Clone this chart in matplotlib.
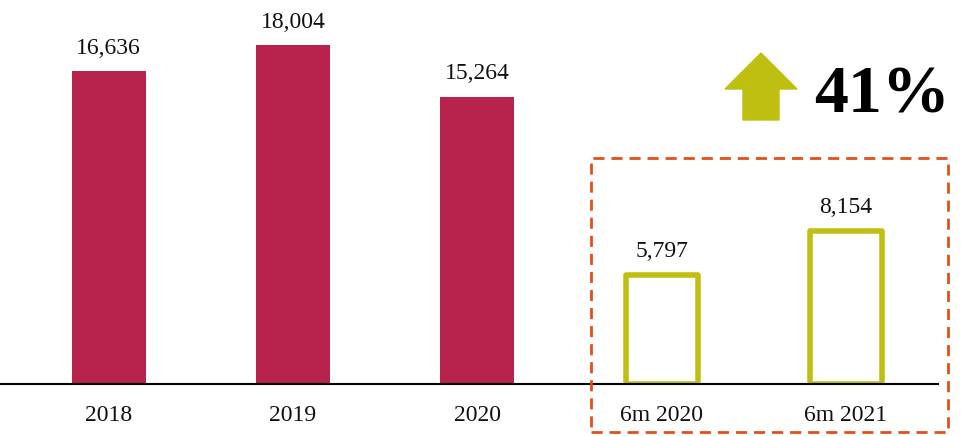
import matplotlib.pyplot as plt
from matplotlib.patches import Rectangle, Polygon

# dados
categorias = ['2018', '2019', '2020', '6m 2020', '6m 2021']
valores = [16636, 18004, 15264, 5797, 8154]
rotulos = ['16,636', '18,004', '15,264', '5,797', '8,154']
variacao = '41%'

cor_ano = '#B8234E'
cor_sem = '#BFBF12'
cor_caixa = '#E0501A'

plt.rcParams['font.family'] = ['Liberation Serif', 'DejaVu Serif']

W, H = 961, 436
fig = plt.figure(figsize=(W / 100, H / 100), dpi=100)
ax = fig.add_axes([0, (H - 384) / H, 938 / W, 384 / H])

x = list(range(len(categorias)))
ax.bar(x[:3], valores[:3], width=0.4, color=cor_ano)
ax.bar(x[3:], valores[3:], width=0.39, facecolor='white', edgecolor=cor_sem,
       linewidth=4, joinstyle='round', zorder=2)

for xi, v, r in zip(x, valores, rotulos):
    ax.annotate(r, (xi, v), xytext=(0, 9), textcoords='offset points',
                ha='center', va='bottom', fontsize=17, color='#111111')

ax.set_xlim(-0.59, 4.5)
ax.set_ylim(0, 20415)
ax.set_xticks(x)
ax.set_xticklabels(categorias, fontsize=17, color='#111111')
ax.tick_params(axis='x', length=0, pad=15)
ax.set_yticks([])
for s in ['top', 'right', 'left']:
    ax.spines[s].set_visible(False)
ax.spines['bottom'].set_linewidth(1.5)
ax.spines['bottom'].set_zorder(3)

# caixa tracejada
fig.patches.append(Rectangle((591 / W, (H - 432) / H), (948 - 591) / W, (432 - 158) / H,
                             transform=fig.transFigure, fill=False, edgecolor=cor_caixa,
                             linewidth=2, linestyle=(0, (4, 2.5))))

# seta para cima
pts = [(761, 53), (797, 89), (779, 89), (779, 120), (743, 120), (743, 89), (725, 89)]
fig.patches.append(Polygon([(px / W, (H - py) / H) for px, py in pts],
                           transform=fig.transFigure, color=cor_sem))

fig.text(882 / W, (H - 96) / H, variacao, ha='center', va='center',
         fontsize=49, fontweight='bold', color='black')

fig.savefig('out.png', dpi=100)
